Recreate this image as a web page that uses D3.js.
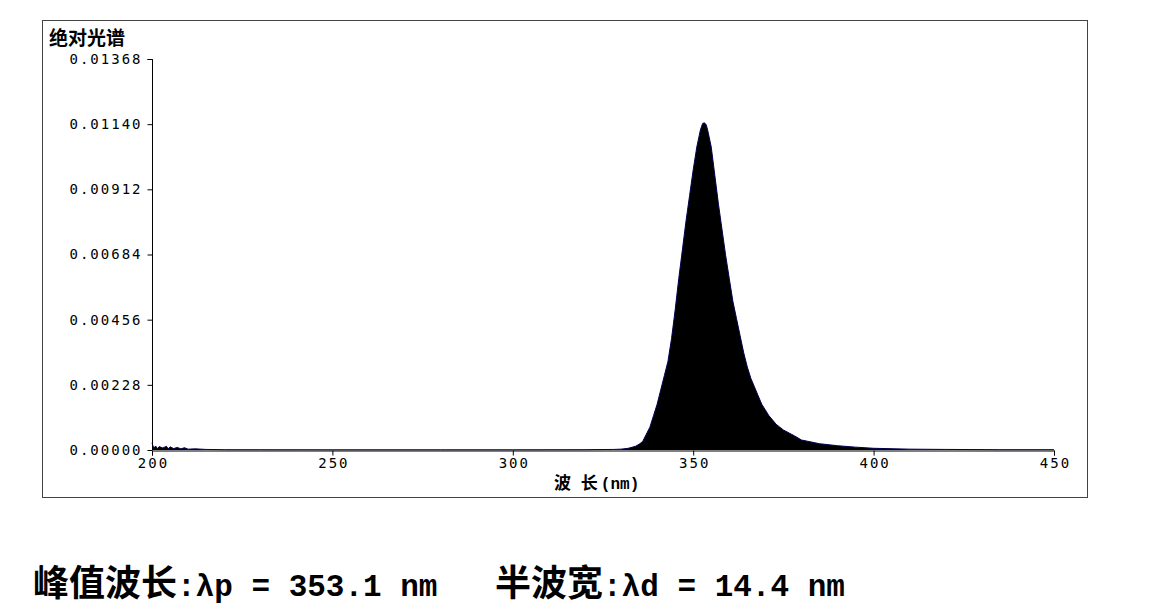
<!DOCTYPE html>
<html>
<head>
<meta charset="utf-8">
<script src="https://cdn.jsdelivr.net/npm/d3@7"></script>
<style>
  body { margin: 0; background: #fff; }
  svg { display: block; }
</style>
</head>
<body>
<svg id="chart"></svg>
<script>
const width = 1159;
const height = 614;

// spectrum (nm, absolute value)
const wavelengths = [200, 200.5, 201, 201.5, 202, 203, 204, 204.5, 205, 206, 207, 208, 209, 210, 212, 215, 220, 230, 250, 280, 300, 320, 328, 330, 332, 334, 335, 336, 337, 338, 339, 340,
  341, 342, 343, 344, 345, 346, 347, 348, 349, 350, 351, 352, 352.6, 353.1, 353.6, 354, 355, 356, 357, 358, 359, 360,
  361, 362, 363, 364, 365, 366, 367, 368, 369, 370, 371, 372, 373, 374, 375, 378, 380, 385, 390, 395, 400, 410, 420, 435, 450];
const intensity = [0.00025, 0.00006, 0.00014, 0.00005, 0.00012, 0.00007, 0.00013, 0.00004, 0.00011, 0.00005, 0.00009, 0.00004, 0.00008, 0.00003, 0.00004, 0.00002, 0.00001, 0.000008, 0.000006, 0.000006, 0.000006, 0.00001, 0.00002, 0.00003, 0.00006, 0.00013, 0.0002, 0.0003, 0.00055, 0.0008, 0.0012, 0.0016,
  0.0021, 0.0026, 0.0031, 0.0039, 0.0049, 0.0060, 0.0070, 0.0080, 0.0089, 0.0098, 0.0106, 0.0112, 0.01142, 0.01145, 0.01138, 0.0112, 0.0106, 0.0096, 0.0086, 0.0077, 0.0068, 0.0060,
  0.0052, 0.0046, 0.0040, 0.0034, 0.0029, 0.0025, 0.0022, 0.0019, 0.0016, 0.0014, 0.0012, 0.00105, 0.0009, 0.0008, 0.0007, 0.0005, 0.00035, 0.00022, 0.00015, 0.0001, 0.00006, 0.00003, 0.00002, 0.00001, 0.00001];

const yTicks = [0, 0.00228, 0.00456, 0.00684, 0.00912, 0.01140, 0.01368];
const xTicks = [200, 250, 300, 350, 400, 450];

const peakText = ["峰值波长", ":λp = 353.1 nm"];
const widthText = ["半波宽", ":λd = 14.4 nm"];

const data = wavelengths.map((w, i) => ({ w: w, v: intensity[i] }));

const svg = d3.select("#chart")
  .attr("width", width)
  .attr("height", height);

const monoFont = "'DejaVu Sans Mono', monospace";
const courier = "'Liberation Mono', 'Courier New', monospace";
const cjkFont = "'Noto Sans CJK SC', sans-serif";

// outer frame
svg.append("rect")
  .attr("x", 42.5)
  .attr("y", 20.5)
  .attr("width", 1045)
  .attr("height", 477)
  .attr("fill", "none")
  .attr("stroke", "#444")
  .attr("stroke-width", 1);

const x = d3.scaleLinear().domain([200, 450]).range([152, 1054]);
const y = d3.scaleLinear().domain([0, 0.01368]).range([450, 59]);

// filled spectrum
const area = d3.area()
  .x(d => x(d.w))
  .y0(y(0))
  .y1(d => y(d.v));

svg.append("path")
  .datum(data)
  .attr("d", area)
  .attr("fill", "#000");

const line = d3.line()
  .x(d => x(d.w))
  .y(d => y(d.v));

svg.append("path")
  .datum(data)
  .attr("d", line)
  .attr("fill", "none")
  .attr("stroke", "#000050")
  .attr("stroke-width", 1);

// axes
const yAxis = svg.append("g")
  .attr("transform", "translate(152.5,0)")
  .call(d3.axisLeft(y).tickValues(yTicks).tickSize(5).tickPadding(5).tickFormat(d3.format(".5f")));

const xAxis = svg.append("g")
  .attr("transform", "translate(0,450.5)")
  .call(d3.axisBottom(x).tickValues(xTicks).tickSize(5).tickPadding(3).tickFormat(d3.format("d")));

[yAxis, xAxis].forEach(g => {
  g.select(".domain").attr("stroke", "#000").attr("stroke-width", 1);
  g.selectAll(".tick line").attr("stroke", "#000");
  g.selectAll("text")
    .attr("fill", "#000")
    .style("font-family", monoFont)
    .style("font-size", "14px")
    .style("letter-spacing", "2px");
});
yAxis.select(".domain").attr("d", "M-5,59.5H0V450");
xAxis.selectAll("text").attr("dx", "1px");

// y title
svg.append("text")
  .attr("x", 49)
  .attr("y", 45)
  .style("font-family", cjkFont)
  .style("font-weight", "700")
  .style("font-size", "19px")
  .text("绝对光谱");

// x title
const xt = svg.append("text")
  .attr("x", 554)
  .attr("y", 489)
  .style("font-weight", "700");
xt.append("tspan").style("font-family", cjkFont).style("font-size", "17px").style("letter-spacing", "3px").text("波 长");
xt.append("tspan").style("font-family", courier).style("font-size", "16px").text("(nm)");

// summary line below chart
function summary(parts, x0) {
  const t = svg.append("text")
    .attr("x", x0)
    .attr("y", 596)
    .style("font-weight", "700");
  t.append("tspan").style("font-family", cjkFont).style("font-size", "36px").text(parts[0]);
  t.append("tspan").style("font-family", courier).style("font-size", "31px").text(parts[1]);
}
summary(peakText, 33);
summary(widthText, 495);
</script>
</body>
</html>
